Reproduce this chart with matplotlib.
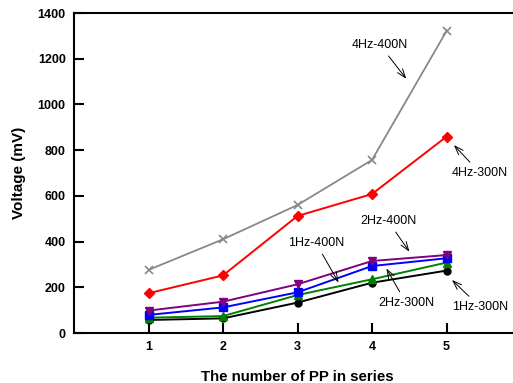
import matplotlib
matplotlib.use("Agg")
import matplotlib.pyplot as plt

plt.rcParams['font.family'] = ['Liberation Sans', 'DejaVu Sans']

x = [1, 2, 3, 4, 5]
v_4hz_400n = [276, 410, 560, 757, 1321]
v_4hz_300n = [174, 252, 512, 608, 859]
v_2hz_400n = [98, 137, 213, 315, 341]
v_2hz_300n = [79, 112, 178, 293, 327]
v_1hz_400n = [67, 74, 166, 235, 308]
v_1hz_300n = [57, 64, 133, 220, 273]

fig = plt.figure(figsize=(5.13, 3.83), dpi=100)
ax = fig.add_axes([74 / 513, 50 / 383, 447 / 513, 320 / 383])

ax.plot(x, v_4hz_400n, color='#888888', marker='x', ms=6, mew=1.2, lw=1.3)
ax.plot(x, v_4hz_300n, color='red', marker='D', ms=5, lw=1.4)
ax.plot(x, v_1hz_300n, color='black', marker='o', ms=5, lw=1.4)
ax.plot(x, v_1hz_400n, color='green', marker='^', ms=6, lw=1.4)
ax.plot(x, v_2hz_300n, color='blue', marker='s', ms=5.5, lw=1.4)
ax.plot(x, v_2hz_400n, color='purple', marker='v', ms=6, lw=1.4)

ax.set_xlim(0, 6)
ax.set_ylim(0, 1400)
ax.set_xticks(x)
ax.set_yticks(range(0, 1401, 200))
for s in ax.spines.values():
    s.set_linewidth(1.5)
ax.tick_params(direction='in', length=7, width=1.5, labelsize=9, pad=6)
for lab in ax.get_xticklabels() + ax.get_yticklabels():
    lab.set_fontweight('bold')

ax.set_xlabel('The number of PP in series', fontsize=10.8, fontweight='bold', labelpad=12)
ax.set_ylabel('Voltage (mV)', fontsize=11, fontweight='bold', labelpad=8)

arrow = dict(arrowstyle='->, head_length=0.7, head_width=0.25', color='black', lw=0.7)


def note(text, xy_px, txt_px):
    # positions given in pixels of the 513x383 picture
    fx = lambda p: (p[0] / 513, 1 - p[1] / 383)
    ax.annotate(text, xy=fx(xy_px), xytext=fx(txt_px), xycoords='figure fraction',
                textcoords='figure fraction', fontsize=9, ha='center', va='center',
                arrowprops=arrow)


note('4Hz-400N', (408, 81), (380, 45))
note('4Hz-300N', (452, 143), (480, 173))
note('2Hz-400N', (411, 254), (388, 221))
note('1Hz-400N', (340, 285), (316, 243))
note('2Hz-300N', (385, 266), (406, 303))
note('1Hz-300N', (450, 278), (480, 307))

fig.savefig('out.png', dpi=100)
